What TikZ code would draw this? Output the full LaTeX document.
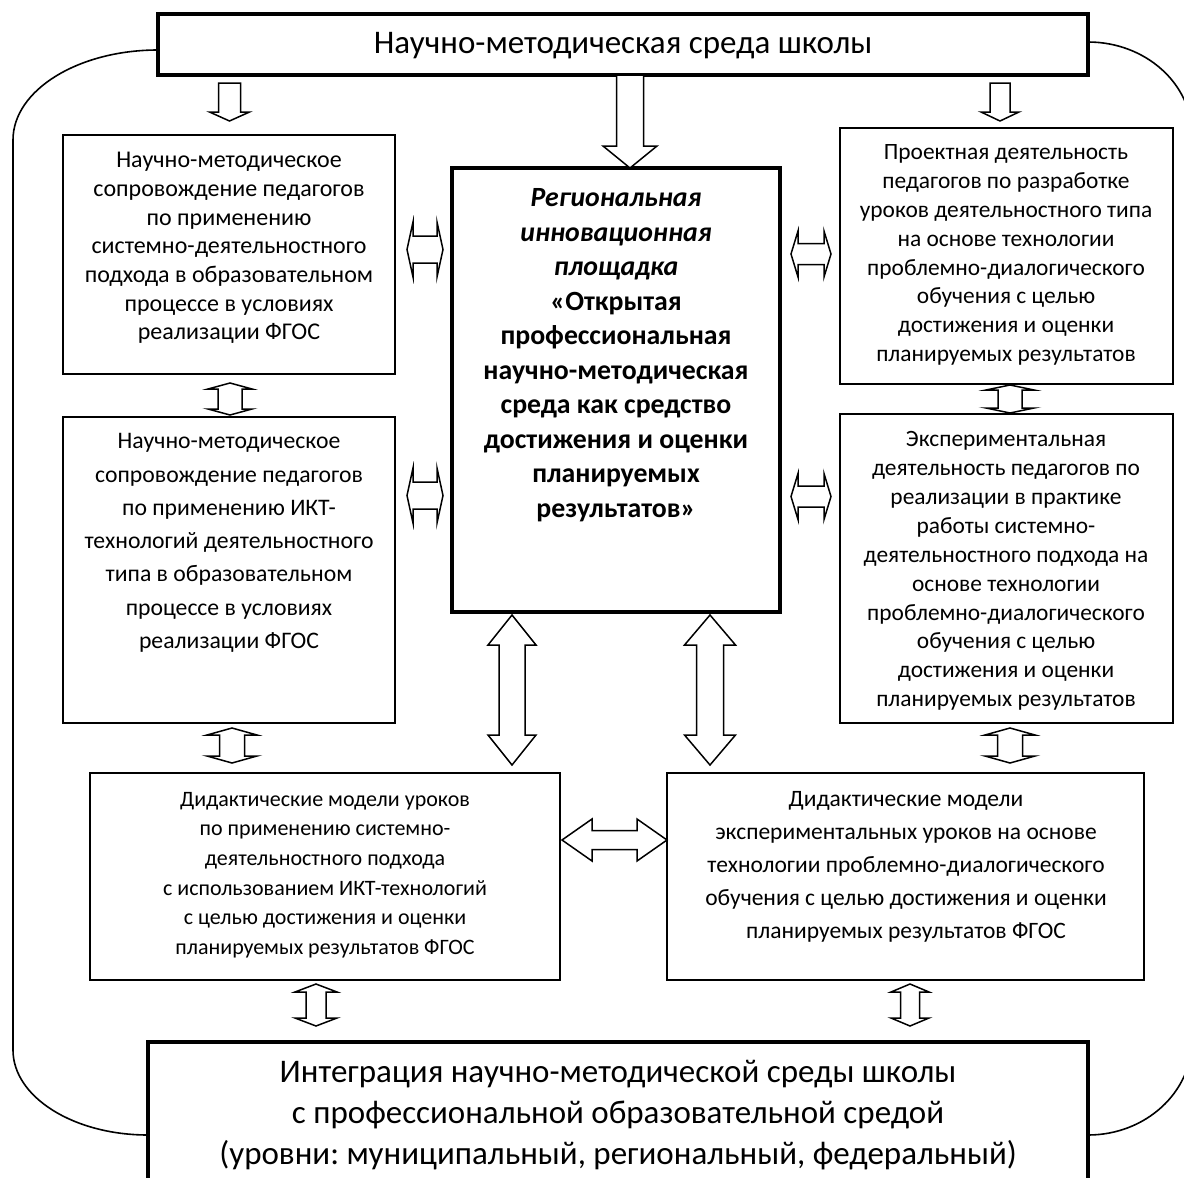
\documentclass[tikz,border=0pt]{standalone}
\usepackage{fontspec}
\setmainfont{Carlito}
\frenchspacing
\usetikzlibrary{calc,fit}
\tikzset{
  thinbox/.style={draw, line width=1.8pt, inner sep=0pt},
  thickbox/.style={draw, line width=3.6pt, inner sep=0pt},
  txt/.style={align=center, inner sep=0pt},
  blk/.style={draw, line width=1.5pt, fill=white, line join=miter},
  outer/.style={draw, line width=1.6pt}
}
% vertical double block arrow: #1 top tip, #2 bottom tip, #3 head half width, #4 shaft half width, #5 head length
\newcommand\vdblarrow[5]{%
 \draw[blk] let \p1=(#1), \p2=(#2) in
 (\x1,\y1) -- (\x1+#3,\y1-#5) -- (\x1+#4,\y1-#5) -- (\x1+#4,\y2+#5) -- (\x1+#3,\y2+#5) -- (\x1,\y2)
 -- (\x1-#3,\y2+#5) -- (\x1-#4,\y2+#5) -- (\x1-#4,\y1-#5) -- (\x1-#3,\y1-#5) -- cycle;}
% horizontal double block arrow: #1 left tip, #2 right tip
\newcommand\hdblarrow[5]{%
 \draw[blk] let \p1=(#1), \p2=(#2) in
 (\x1,\y1) -- (\x1+#5,\y1+#3) -- (\x1+#5,\y1+#4) -- (\x2-#5,\y1+#4) -- (\x2-#5,\y1+#3) -- (\x2,\y1)
 -- (\x2-#5,\y1-#3) -- (\x2-#5,\y1-#4) -- (\x1+#5,\y1-#4) -- (\x1+#5,\y1-#3) -- cycle;}
% single down block arrow: #1 shaft top, #2 tip
\newcommand\vsglarrow[5]{%
 \draw[blk] let \p1=(#1), \p2=(#2) in
 (\x1-#4,\y1) -- (\x1+#4,\y1) -- (\x1+#4,\y2+#5) -- (\x1+#3,\y2+#5) -- (\x1,\y2)
 -- (\x1-#3,\y2+#5) -- (\x1-#4,\y2+#5) -- cycle;}
\begin{document}
\begin{tikzpicture}[x=1pt,y=-1pt]
\useasboundingbox (0,0) rectangle (1184,1178);
\clip (0,0) rectangle (1184,1178);

% outer frame line
\draw[outer] (158,50) arc[start angle=-90, end angle=-180, x radius=145, y radius=90]
  -- (13,1050) arc[start angle=180, end angle=90, x radius=135, y radius=85];
\draw[outer] (1088,42) arc[start angle=-90, end angle=0, x radius=104, y radius=93]
  -- (1192,1040) arc[start angle=0, end angle=90, x radius=104, y radius=95];

% boxes
\node[thickbox, fit={(158,14)(1088,75)}] (T) {};
\node[thinbox, fit={(63,135)(395,374)}] (L1) {};
\node[thinbox, fit={(63,417)(395,723)}] (L2) {};
\node[thickbox, fit={(452,168)(780,612)}] (C) {};
\node[thinbox, fit={(840,128)(1173,384)}] (R1) {};
\node[thinbox, fit={(840,414)(1173,723)}] (R2) {};
\node[thinbox, fit={(90,773)(560,980)}] (B1) {};
\node[thinbox, fit={(667,773)(1144,980)}] (B2) {};
\node[thickbox, fit={(148,1042)(1088,1200)}] (I) {};

% texts
\node[txt, font=\fontsize{33}{38}\selectfont] (Tt) at (623,46) {Научно-методическая среда школы};
\node[txt, font=\fontsize{24}{28.7}\selectfont] (L1t) at (229,248) {Научно-методическое\\сопровождение педагогов\\по применению\\системно-деятельностного\\подхода в образовательном\\процессе в условиях\\реализации ФГОС};
\node[txt, font=\fontsize{23.7}{33.3}\selectfont] (L2t) at (229,543) {Научно-методическое\\сопровождение педагогов\\по применению ИКТ-\\технологий деятельностного\\типа в образовательном\\процессе в условиях\\реализации ФГОС};
\node[txt, font=\fontsize{27.8}{34.5}\selectfont\bfseries] (Ct) at (616,355) {\itshape Региональная\\\itshape инновационная\\\itshape площадка\\«Открытая\\профессиональная\\научно-методическая\\среда как средство\\достижения и оценки\\планируемых\\результатов»};
\node[txt, font=\fontsize{23.4}{28.9}\selectfont] (R1t) at (1006,255) {Проектная деятельность\\педагогов по разработке\\уроков деятельностного типа\\на основе технологии\\проблемно-диалогического\\обучения с целью\\достижения и оценки\\планируемых результатов};
\node[txt, font=\fontsize{23.4}{28.9}\selectfont] (R2t) at (1006,571) {Экспериментальная\\деятельность педагогов по\\реализации в практике\\работы системно-\\деятельностного подхода на\\основе технологии\\проблемно-диалогического\\обучения с целью\\достижения и оценки\\планируемых результатов};
\node[txt, font=\fontsize{22}{29.6}\selectfont] (B1t) at (325,875) {Дидактические модели уроков\\по применению системно-\\деятельностного подхода\\с использованием ИКТ-технологий\\с целью достижения и оценки\\планируемых результатов ФГОС};
\node[txt, font=\fontsize{23.5}{33}\selectfont] (B2t) at (906,867) {Дидактические модели\\экспериментальных уроков на основе\\технологии проблемно-диалогического\\обучения с целью достижения и оценки\\планируемых результатов ФГОС};
\node[txt, font=\fontsize{33}{41}\selectfont] (It) at (618,1115) {Интеграция научно-методической среды школы\\с профессиональной образовательной средой\\(уровни: муниципальный, региональный, федеральный)};

% arrow end points
\coordinate (aTL1a) at (229.5,83);  \coordinate (aTL1b) at (229.5,121);
\coordinate (aTCa)  at (630,75);    \coordinate (aTCb)  at (630,168);
\coordinate (aTR1a) at (1000,83);   \coordinate (aTR1b) at (1000,121);
\coordinate (aL1L2a) at (230,383);  \coordinate (aL1L2b) at (230,415);
\coordinate (aR1R2a) at (1010,385); \coordinate (aR1R2b) at (1010,413);
\coordinate (aL2B1a) at (232,728);  \coordinate (aL2B1b) at (232,763);
\coordinate (aR2B2a) at (1010,728); \coordinate (aR2B2b) at (1010,763);
\coordinate (aB1Ia) at (316,984);   \coordinate (aB1Ib) at (316,1026);
\coordinate (aB2Ia) at (910,984);   \coordinate (aB2Ib) at (910,1026);
\coordinate (aCB1a) at (512,615);   \coordinate (aCB1b) at (512,765);
\coordinate (aCB2a) at (710,615);   \coordinate (aCB2b) at (710,765);
\coordinate (aL1Ca) at (407,249.5); \coordinate (aL1Cb) at (443,249.5);
\coordinate (aL2Ca) at (407,495.5); \coordinate (aL2Cb) at (443,495.5);
\coordinate (aCR1a) at (791,254);   \coordinate (aCR1b) at (831,254);
\coordinate (aCR2a) at (791,496.5); \coordinate (aCR2b) at (831,496.5);
\coordinate (aB1B2a) at (562,840);  \coordinate (aB1B2b) at (667,840);

% arrows
\vsglarrow{aTL1a}{aTL1b}{20pt}{11pt}{9pt}
\vsglarrow{aTCa}{aTCb}{27pt}{13.5pt}{22pt}
\vsglarrow{aTR1a}{aTR1b}{19pt}{10pt}{9pt}
\vdblarrow{aL1L2a}{aL1L2b}{22pt}{12pt}{6pt}
\vdblarrow{aR1R2a}{aR1R2b}{24pt}{12pt}{5pt}
\vdblarrow{aL2B1a}{aL2B1b}{25pt}{12.5pt}{7pt}
\vdblarrow{aR2B2a}{aR2B2b}{25pt}{12.5pt}{7pt}
\vdblarrow{aB1Ia}{aB1Ib}{21pt}{10pt}{8pt}
\vdblarrow{aB2Ia}{aB2Ib}{19pt}{9.5pt}{8pt}
\vdblarrow{aCB1a}{aCB1b}{24pt}{13pt}{30pt}
\vdblarrow{aCB2a}{aCB2b}{25.5pt}{13.5pt}{30pt}
\hdblarrow{aL1Ca}{aL1Cb}{27.5pt}{13.5pt}{6pt}
\hdblarrow{aL2Ca}{aL2Cb}{27.5pt}{13.5pt}{6pt}
\hdblarrow{aCR1a}{aCR1b}{23pt}{10.5pt}{7pt}
\hdblarrow{aCR2a}{aCR2b}{23pt}{10.5pt}{7pt}
\hdblarrow{aB1B2a}{aB1B2b}{21pt}{9.5pt}{30pt}
\end{tikzpicture}
\end{document}
